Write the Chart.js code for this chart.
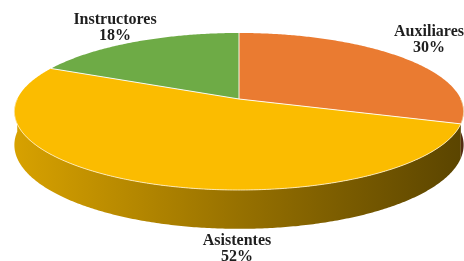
<!DOCTYPE html>
<html>
<head>
<meta charset="utf-8">
<script src="https://cdn.jsdelivr.net/npm/chart.js@4.4.0/dist/chart.umd.min.js"></script>
<style>
    html, body { margin: 0; padding: 0; background: #fff; }
    #wrap { position: relative; width: 464px; height: 261px; }
</style>
</head>
<body>
<div id="wrap"><canvas id="pie" width="464" height="261"></canvas></div>
<script>
// values
const categories = ['Auxiliares', 'Asistentes', 'Instructores'];
const shares = [30, 52, 18];
const sliceColors = ['#EA7B31', '#FBBC00', '#6EAB46'];
// where each label sits (canvas px)
const labelSpots = [[429, 40], [237, 249], [115, 28]];

// perspective look of the tilted disc
const tilt = { sx: 2.24, sy: 0.773, persp: 0.159, depth: 0.33 };

function shade(hex, f) {
    const n = parseInt(hex.slice(1), 16);
    const r = Math.round(((n >> 16) & 255) * f);
    const g = Math.round(((n >> 8) & 255) * f);
    const b = Math.round((n & 255) * f);
    return `rgb(${r},${g},${b})`;
}

// project a point of the flat disc onto the screen
function proj(el, a, drop) {
    const u = Math.cos(a), v = -Math.sin(a);
    const s = 1 / (1 + tilt.persp * v);
    const R = el.outerRadius;
    return [
        el.x + R * tilt.sx * u * s,
        el.y - R * tilt.sy * v * s + (drop ? R * tilt.depth * s : 0),
    ];
}

function rimPath(ctx, el, a1, a2, drop, first) {
    const n = Math.max(8, Math.ceil(Math.abs(a2 - a1) / 0.01));
    for (let i = 0; i <= n; i++) {
        const p = proj(el, a1 + (a2 - a1) * i / n, drop);
        if (i === 0 && first) ctx.moveTo(p[0], p[1]); else ctx.lineTo(p[0], p[1]);
    }
}

const pie3d = {
    id: 'pie3d',
    beforeDatasetsDraw(chart) {
        const ctx = chart.ctx;
        const arcs = chart.getDatasetMeta(0).data;
        const W = chart.width;
        ctx.save();
        // side walls (front half only: canvas angles 0..PI)
        arcs.forEach((el, i) => {
            const s = el.startAngle, e = el.endAngle;
            const ranges = [];
            for (const off of [0, 2 * Math.PI, -2 * Math.PI]) {
                const a1 = Math.max(s + off, 0), a2 = Math.min(e + off, Math.PI);
                if (a2 > a1) ranges.push([a1, a2]);
            }
            ranges.forEach(([a1, a2]) => {
                const g = ctx.createLinearGradient(12, 0, W, 0);
                g.addColorStop(0, shade(sliceColors[i], 0.86));
                g.addColorStop(0.5, shade(sliceColors[i], 0.6));
                g.addColorStop(1, shade(sliceColors[i], 0.36));
                ctx.beginPath();
                rimPath(ctx, el, a1, a2, false, true);
                rimPath(ctx, el, a2, a1, true, false);
                ctx.closePath();
                ctx.fillStyle = g;
                ctx.fill();
            });
        });
        // top faces
        arcs.forEach((el, i) => {
            ctx.beginPath();
            ctx.moveTo(el.x, el.y);
            rimPath(ctx, el, el.startAngle, el.endAngle, false, false);
            ctx.closePath();
            ctx.fillStyle = sliceColors[i];
            ctx.fill();
        });
        // white seams
        ctx.strokeStyle = 'rgba(255,255,255,0.9)';
        ctx.lineWidth = 1;
        arcs.forEach(el => {
            const p = proj(el, el.startAngle, false);
            ctx.beginPath();
            ctx.moveTo(el.x, el.y);
            ctx.lineTo(p[0], p[1]);
            ctx.stroke();
        });
        // light front rim
        const el0 = arcs[0];
        ctx.strokeStyle = 'rgba(255,240,200,0.85)';
        ctx.beginPath();
        rimPath(ctx, el0, 0, Math.PI, false, true);
        ctx.stroke();
        // labels
        ctx.fillStyle = '#1e1e1e';
        ctx.font = 'bold 16px "Liberation Serif", "Times New Roman", serif';
        ctx.textAlign = 'center';
        ctx.textBaseline = 'middle';
        const total = shares.reduce((a, b) => a + b, 0);
        arcs.forEach((el, i) => {
            const [lx, ly] = labelSpots[i];
            ctx.fillText(categories[i], lx, ly - 8);
            ctx.fillText(Math.round(shares[i] / total * 100) + '%', lx, ly + 8);
        });
        ctx.restore();
        return false;
    },
};

new Chart(document.getElementById('pie'), {
    type: 'pie',
    data: {
        labels: categories,
        datasets: [{ data: shares, backgroundColor: sliceColors, borderWidth: 0 }],
    },
    options: {
        responsive: false,
        animation: false,
        layout: { padding: { left: 14, right: 0, top: 0, bottom: 63 } },
        plugins: { legend: { display: false }, tooltip: { enabled: false } },
    },
    plugins: [pie3d],
});
</script>
</body>
</html>
